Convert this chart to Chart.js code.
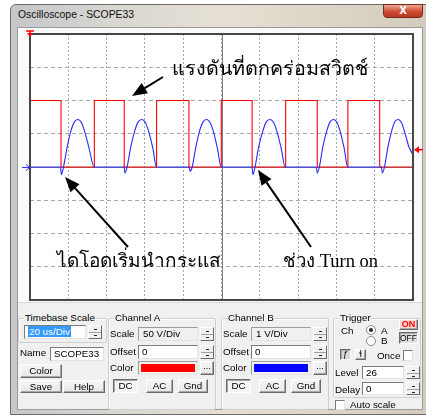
<!DOCTYPE html>
<html><head><meta charset="utf-8">
<script src="https://cdn.jsdelivr.net/npm/chart.js@4"></script>
<style>
html,body{margin:0;padding:0;width:426px;height:418px;overflow:hidden;background:#fff;}
body{position:relative;font-family:"Liberation Sans","DejaVu Sans",sans-serif;font-size:9.8px;color:#000;}
.abs{position:absolute;box-sizing:border-box;white-space:nowrap;}
#frame{left:10px;top:4px;width:425px;height:411px;background:linear-gradient(90deg,#c4c7cb 0%,#d9d7d1 25%,#e6e0d4 50%,#ddd5c6 75%,#d2cbbd 100%);border:1px solid #6a6a6a;border-radius:6px 6px 0 0;}
#title{left:18px;top:9px;font-size:10.4px;color:#111;}
#close{left:383px;top:4px;width:40px;height:14px;border-radius:0 0 4px 4px;background:linear-gradient(#eaa593,#cf4a30 55%,#b73a22);border:1px solid #7a2a1a;color:#fff;text-align:center;font:bold 10px "DejaVu Sans";line-height:12px;}
#client{left:17px;top:27px;width:406px;height:383px;background:#f0f0f0;border:1px solid #9a9a9a;}
#plotpanel{left:18px;top:28px;width:404px;height:275px;background:#fafafa;border-bottom:1px solid #d8d8d8;}
canvas{position:absolute;left:0;top:0;}
.lbl{line-height:12px;}
.inp{background:#fff;border:1px solid;border-color:#7b7b7b #e3e3e3 #e3e3e3 #7b7b7b;padding-left:3px;line-height:11px;}
.ro{background:#f0f0f0;border:1px solid;border-color:#9b9b9b #e3e3e3 #e3e3e3 #9b9b9b;padding-left:4px;line-height:11px;}
.btn{background:linear-gradient(#f6f6f6,#e6e6e6);border:1px solid;border-color:#fff #6a6a6a #6a6a6a #fff;box-shadow:inset -1px -1px #a8a8a8;text-align:center;line-height:11px;}
.btnd{background:#f4f4f4;border:1px solid;border-color:#6a6a6a #fff #fff #6a6a6a;box-shadow:inset 1px 1px #a8a8a8;text-align:center;line-height:11px;}
.grp{border:1px solid #cfcfcf;border-radius:2px;box-shadow:inset 1px 1px #fff;}
.lg{background:#f0f0f0;padding:0 1px;line-height:12px;}
.spin{background:#f0f0f0;border:1px solid;border-color:#fff #6a6a6a #6a6a6a #fff;}
.spin i{position:absolute;left:5px;width:3px;height:1px;background:#222;}
.note{font-family:"Liberation Serif","DejaVu Serif",serif;color:#000;line-height:1;}
</style></head>
<body>
<div id="frame" class="abs"></div>
<div id="title" class="abs">Oscilloscope - SCOPE33</div>
<div id="close" class="abs">X</div>
<div id="client" class="abs"></div>
<div id="plotpanel" class="abs"></div>
<canvas id="c" width="426" height="418"></canvas>
<script>
// ---------- data ----------
const timePerDivUs = 20;          // Timebase Scale
const voltsPerDivA = 50;          // Channel A scale
const voltsPerDivB = 1;           // Channel B scale
const triggerLevelV = 26;         // Trigger level (channel A)
const xDivisions = 10;
const yDivisions = 8;

// Channel A (red): voltage across the switch
const chATimeUs = [0,16.2,16.2,33.6,33.6,49.2,49.2,66.1,66.1,83.0,83.0,99.9,99.9,116.0,116.0,133.5,133.5,150.0,150.0,166.0,166.0,182.6,182.6,200];
const chAVolts  = [100,100,0,0,100,100,0,0,100,100,0,0,100,100,0,0,100,100,0,0,100,100,0,0];

// Channel B (blue): diode current sense
const chBTimeUs = [0,
  15.9,16.4,17.5,19.4,21.2,23.1,25.0,26.9,28.8,30.9,33.5,
  49.1,49.6,50.7,52.6,54.5,56.4,58.4,60.3,62.2,64.2,66.0,
  83.1,83.6,84.7,86.6,88.4,90.3,92.2,94.1,96.0,97.9,99.8,
  115.9,116.4,117.5,119.4,121.4,123.3,125.3,127.3,129.2,131.2,133.2,
  149.5,150.0,151.1,152.9,154.8,156.6,158.5,160.4,162.2,164.1,165.9,
  183.5,184.0,185.1,186.9,188.7,190.4,192.2,194.0,195.8,197.9,200];
const chBVolts = [0,
  0,-0.23,0,0.60,1.05,1.35,1.43,1.33,1.02,0.55,0,
  0,-0.18,0,0.60,1.05,1.35,1.43,1.33,1.02,0.55,0,
  0,-0.13,0,0.60,1.05,1.35,1.43,1.33,1.02,0.55,0,
  0,-0.23,0,0.60,1.05,1.35,1.43,1.33,1.02,0.55,0,
  0,-0.18,0,0.60,1.05,1.35,1.43,1.33,1.02,0.55,0,
  0,-0.18,0,0.60,1.05,1.35,1.43,1.33,1.02,0.60,0.37];

// ---------- chart ----------
const aData = chATimeUs.map((t,i)=>({x:t,y:chAVolts[i]/voltsPerDivA}));
const bData = chBTimeUs.map((t,i)=>({x:t,y:chBVolts[i]/voltsPerDivB}));
const tMax = timePerDivUs*xDivisions;

function arrow(ctx,x1,y1,x2,y2){
  const ang=Math.atan2(y2-y1,x2-x1), L=15, W=6;
  const bx=x2-L*Math.cos(ang), by=y2-L*Math.sin(ang);
  ctx.beginPath();ctx.moveTo(x1,y1);ctx.lineTo(bx,by);ctx.stroke();
  ctx.beginPath();ctx.moveTo(x2,y2);
  ctx.lineTo(bx+W*Math.sin(ang),by-W*Math.cos(ang));
  ctx.lineTo(bx-W*Math.sin(ang),by+W*Math.cos(ang));
  ctx.closePath();ctx.fill();
}

const scopePlugin={
  id:'scope',
  beforeDraw(chart){
    const {ctx,chartArea:a}=chart;
    ctx.save();ctx.fillStyle='#fff';ctx.fillRect(a.left,a.top,a.right-a.left,a.bottom-a.top);ctx.restore();
  },
  beforeDatasetsDraw(chart){
    const {ctx,chartArea:a,scales:{x,y}}=chart;
    ctx.save();ctx.strokeStyle='#808080';ctx.lineWidth=1;
    const cx=Math.round(x.getPixelForValue(tMax/2))+0.5;
    ctx.beginPath();ctx.moveTo(cx,a.top);ctx.lineTo(cx,a.bottom);ctx.stroke();
    const cy=Math.round(y.getPixelForValue(0))+0.5;
    ctx.beginPath();ctx.moveTo(a.left,cy);ctx.lineTo(a.right,cy);ctx.stroke();
    ctx.restore();
  },
  afterDatasetsDraw(chart){
    const {ctx,chartArea:a,scales:{x,y}}=chart;
    ctx.save();
    ctx.strokeStyle='#474747';ctx.lineWidth=2;
    ctx.strokeRect(a.left,a.top,a.right-a.left,a.bottom-a.top);
    // trigger position marker (red, top)
    const tx=x.getPixelForValue(0);
    ctx.strokeStyle='#ff0000';ctx.fillStyle='#ff0000';ctx.lineWidth=1.5;
    ctx.beginPath();ctx.moveTo(tx-4,a.top-3);ctx.lineTo(tx+4,a.top-3);ctx.moveTo(tx,a.top-3);ctx.lineTo(tx,a.top);ctx.stroke();
    ctx.beginPath();ctx.moveTo(tx-3,a.top-1);ctx.lineTo(tx+3,a.top-1);ctx.lineTo(tx,a.top+3);ctx.closePath();ctx.fill();
    // channel B ground marker (blue, left)
    const by0=Math.round(y.getPixelForValue(0))+0.5;
    ctx.strokeStyle='#3030ff';ctx.lineWidth=1;
    ctx.beginPath();ctx.moveTo(a.left-8,by0);ctx.lineTo(a.left,by0);
    ctx.moveTo(a.left-4,by0-3);ctx.lineTo(a.left,by0);ctx.lineTo(a.left-4,by0+3);ctx.stroke();
    // trigger level marker (red, right)
    const ty=y.getPixelForValue(triggerLevelV/voltsPerDivA);
    ctx.strokeStyle='#ff0000';ctx.fillStyle='#ff0000';ctx.lineWidth=1.5;
    ctx.beginPath();ctx.moveTo(a.right+2,ty);ctx.lineTo(a.right+10,ty);ctx.stroke();
    ctx.beginPath();ctx.moveTo(a.right+1,ty);ctx.lineTo(a.right+6,ty-3.5);ctx.lineTo(a.right+6,ty+3.5);ctx.closePath();ctx.fill();
    ctx.restore();
  },
  afterDraw(chart){
    const {ctx}=chart;
    ctx.save();ctx.strokeStyle='#000';ctx.fillStyle='#000';ctx.lineWidth=2;
    arrow(ctx,163,77,132,96);
    arrow(ctx,128,247,65,177);
    arrow(ctx,311,247,258,170);
    ctx.restore();
  }
};

new Chart(document.getElementById('c'),{
  type:'line',
  data:{datasets:[
    {label:'Channel B',data:bData,borderColor:'#2a2aff',borderWidth:1.1,pointRadius:0,cubicInterpolationMode:'monotone'},
    {label:'Channel A',data:aData,borderColor:'#ff0000',borderWidth:1.1,pointRadius:0,tension:0}
  ]},
  options:{
    responsive:false,animation:false,devicePixelRatio:1,
    layout:{padding:{left:30,top:34,right:13,bottom:118}},
    plugins:{legend:{display:false},tooltip:{enabled:false},title:{display:false}},
    scales:{
      x:{type:'linear',min:0,max:tMax,ticks:{display:false,stepSize:timePerDivUs},
         grid:{color:'#a8a8a8',lineWidth:1,drawTicks:false},border:{display:false,dash:[2,2]}},
      y:{type:'linear',min:-yDivisions/2,max:yDivisions/2,ticks:{display:false,stepSize:1},
         grid:{color:'#a8a8a8',lineWidth:1,drawTicks:false},border:{display:false,dash:[4,3]}}
    }
  },
  plugins:[scopePlugin]
});

// ---------- window controls ----------
function el(cls,x,y,w,h,text,style){
  const d=document.createElement('div');d.className='abs '+cls;
  d.style.left=x+'px';d.style.top=y+'px';
  if(w!=null)d.style.width=w+'px';if(h!=null)d.style.height=h+'px';
  if(text!=null)d.textContent=text;if(style)Object.assign(d.style,style);
  document.body.appendChild(d);return d;
}
function spin(x,y,h){
  const s=el('spin',x,y,14,h);
  const a=document.createElement('i');a.style.top=Math.round(h/2-4)+'px';s.appendChild(a);
  const b=document.createElement('i');b.style.top=Math.round(h/2+2)+'px';s.appendChild(b);
  const m=document.createElement('i');m.style.cssText='left:0;width:12px;top:'+Math.round(h/2-1)+'px;background:#a0a0a0';s.appendChild(m);
}
// annotations
el('note',172,59,null,null,'แรงดันที่ตกคร่อมสวิตช์',{fontSize:'19.7px'});
el('note',57,251,null,null,'ไดโอดเริ่มนำกระแส',{fontSize:'19px'});
el('note',283,252,null,null,'ช่วง Turn on',{fontSize:'18.5px'});

// Timebase
el('grp',18,318,89,25);
el('lg lbl',24,312,null,null,'Timebase Scale');
const tb=el('inp',24,325,62,14);
const sel=document.createElement('span');sel.textContent='20 us/Div';sel.style.cssText='background:#3399ff;color:#fff;padding:0 1px;';tb.appendChild(sel);
spin(88,325,14);
el('lbl',20,347,null,null,'Name');
el('inp',50,347,54,14,'SCOPE33');
el('btn',20,364,42,14,'Color');
el('btn',20,380,42,13,'Save');
el('btn',63,380,42,13,'Help');

// Channel A & B
function channel(x0,color,scaleTxt){
  el('grp',x0,318,108,92);
  el('lg lbl',x0+6,312,null,null,x0<200?'Channel A':'Channel B');
  el('lbl',x0+2,328,null,null,'Scale');
  el('ro',x0+30,327,60,14,scaleTxt);
  spin(x0+92,327,14);
  el('lbl',x0+2,346,null,null,'Offset');
  el('inp',x0+30,345,60,14,'0');
  spin(x0+92,345,14);
  el('lbl',x0+2,362,null,null,'Color');
  const sw=el('ro',x0+30,361,60,14);
  const c=document.createElement('div');c.style.cssText='position:absolute;left:2px;top:2px;right:2px;bottom:2px;background:'+color;sw.appendChild(c);
  el('btn',x0+92,361,14,14,'...',{lineHeight:'9px',fontSize:'9px'});
  el('btnd',x0+5,379,25,14,'DC');
  el('btn',x0+38,379,27,14,'AC');
  el('btn',x0+70,379,30,14,'Gnd');
}
channel(108,'#ff0000','50  V/Div');
channel(221,'#0000ff','1 V/Div');

// Trigger
el('grp',333,318,88,80);
el('lg lbl',339,312,null,null,'Trigger');
el('lbl',341,325,null,null,'Ch');
function radio(x,y,on){
  const r=el('',x,y,10,10,null,{borderRadius:'50%',border:'1px solid #8a8a8a',background:'#fff'});
  if(on){const d=document.createElement('div');d.style.cssText='position:absolute;left:2px;top:2px;width:4px;height:4px;border-radius:50%;background:#222';r.appendChild(d);}
}
radio(366,325,true);el('lbl',381,325,null,null,'A');
radio(366,336,false);el('lbl',381,335,null,null,'B');
el('btn',399,319,19,11,'ON',{color:'#ff0000',fontWeight:'bold',background:'#ffd6d6',fontSize:'9px',lineHeight:'9px'});
el('btnd',399,332,19,12,'OFF',{fontSize:'8.5px',lineHeight:'10px',background:'#e0e0e0'});
el('btnd',340,349,11,11,'ƒ',{fontSize:'9px',lineHeight:'9px',background:'#d8d8d8'});
el('btn',355,349,11,11,'ɬ',{fontSize:'9px',lineHeight:'9px'});
el('lbl',377,350,null,null,'Once');
el('inp',403,350,10,11);
el('lbl',335,367,null,null,'Level');
el('inp',362,366,42,13,'26');
spin(406,366,13);
el('lbl',335,384,null,null,'Delay');
el('inp',362,382,42,13,'0');
spin(406,382,13);
el('inp',335,400,10,10);
el('lbl',350,399,null,null,'Auto scale');
</script>
</body></html>
